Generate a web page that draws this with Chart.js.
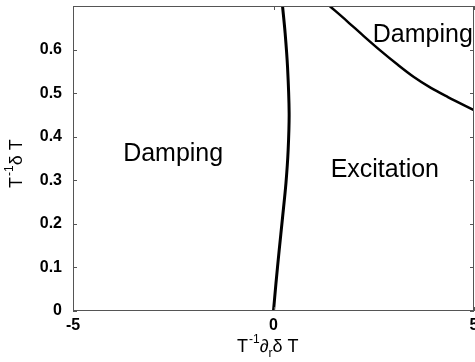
<!DOCTYPE html>
<html>
<head>
<meta charset="utf-8">
<script src="https://cdn.jsdelivr.net/npm/chart.js@4"></script>
<style>
  html, body { margin: 0; padding: 0; background: #fff; }
  #wrap { width: 475px; height: 362px; }
</style>
</head>
<body>
<div id="wrap"><canvas id="stabilityChart"></canvas></div>
<script>
// Left boundary (damping / excitation)
const leftX = [0.0, 0.06, 0.14, 0.225, 0.31, 0.365, 0.39, 0.35, 0.29, 0.225];
const leftY = [0.0, 0.062, 0.138, 0.214, 0.293, 0.369, 0.454, 0.56, 0.638, 0.70];

// Upper right boundary
const rightX = [1.40, 1.825, 2.25, 2.675, 3.1, 3.5, 3.925, 4.35, 5.0];
const rightY = [0.700, 0.666, 0.631, 0.597, 0.565, 0.537, 0.512, 0.491, 0.461];

const xTicks = [-5, 0, 5];
const yTicks = [0, 0.1, 0.2, 0.3, 0.4, 0.5, 0.6];

// Region labels: text, x, y (baseline, data units)
const regionText = ['Damping', 'Excitation', 'Damping'];
const regionX = [-3.75, 1.425, 2.475];
const regionY = [0.344, 0.3075, 0.617];

const toPoints = (xs, ys) => xs.map((x, i) => ({ x: x, y: ys[i] }));

const FONT = '"Liberation Sans", Arial, Helvetica, sans-serif';

// draws "T^-1" then the rest; used for both axis titles
function drawTitle(ctx, x, y, sub) {
    ctx.font = '18px ' + FONT;
    ctx.fillText('T', x, y); x += ctx.measureText('T').width;
    ctx.font = '12px ' + FONT;
    ctx.fillText('-1', x + 1, y - 9); x += ctx.measureText('-1').width + 1;
    ctx.font = '18px ' + FONT;
    if (sub) {
        ctx.fillText('\u2202', x, y); x += ctx.measureText('\u2202').width;
        ctx.font = '12px ' + FONT;
        ctx.fillText('r', x, y + 5); x += ctx.measureText('r').width;
        ctx.font = '18px ' + FONT;
    }
    ctx.fillText('\u03b4 T', x, y);
}

// --- frame, inward ticks, region labels and axis titles ---
const framePlugin = {
    id: 'frame',
    afterDraw(chart) {
        const ctx = chart.ctx;
        const a = chart.chartArea;
        const xs = chart.scales.x;
        const ys = chart.scales.y;
        ctx.save();
        ctx.strokeStyle = '#555';
        ctx.lineWidth = 1;
        ctx.strokeRect(a.left + 0.5, a.top + 0.5, a.right - a.left - 1, a.bottom - a.top - 1);

        // tick marks pointing inwards on all four sides
        ctx.beginPath();
        xTicks.forEach(v => {
            const px = Math.round(xs.getPixelForValue(v)) + 0.5;
            ctx.moveTo(px, a.bottom); ctx.lineTo(px, a.bottom - 4);
            ctx.moveTo(px, a.top); ctx.lineTo(px, a.top + 4);
        });
        yTicks.forEach(v => {
            const py = Math.round(ys.getPixelForValue(v)) + 0.5;
            ctx.moveTo(a.left, py); ctx.lineTo(a.left + 4, py);
            ctx.moveTo(a.right, py); ctx.lineTo(a.right - 4, py);
        });
        ctx.stroke();

        // region labels
        ctx.fillStyle = '#000';
        ctx.font = '25px ' + FONT;
        ctx.textBaseline = 'alphabetic';
        ctx.textAlign = 'left';
        regionText.forEach((t, i) => {
            ctx.fillText(t, xs.getPixelForValue(regionX[i]), ys.getPixelForValue(regionY[i]));
        });

        // x axis title
        drawTitle(ctx, 237, 352, true);

        // y axis title, rotated
        ctx.translate(22, 188);
        ctx.rotate(-Math.PI / 2);
        drawTitle(ctx, 0, 0, false);
        ctx.restore();
    }
};

const ctx = document.getElementById('stabilityChart').getContext('2d');
new Chart(ctx, {
    type: 'scatter',
    data: {
        datasets: [
            {
                label: 'left',
                data: toPoints(leftX, leftY),
                showLine: true,
                borderColor: '#000',
                borderWidth: 3,
                pointRadius: 0,
                tension: 0.3
            },
            {
                label: 'right',
                data: toPoints(rightX, rightY),
                showLine: true,
                borderColor: '#000',
                borderWidth: 2.5,
                pointRadius: 0,
                cubicInterpolationMode: 'monotone'
            }
        ]
    },
    options: {
        responsive: true,
        maintainAspectRatio: false,
        animation: false,
        layout: { padding: { top: 6, right: 1, left: 0, bottom: 0 } },
        plugins: {
            legend: { display: false },
            tooltip: { enabled: false }
        },
        scales: {
            x: {
                type: 'linear',
                min: -5,
                max: 5,
                grid: { display: false },
                border: { display: false },
                afterBuildTicks: s => { s.ticks = xTicks.map(v => ({ value: v })); },
                ticks: {
                    color: '#000',
                    padding: -3,
                    maxRotation: 0,
                    font: { family: FONT, size: 16, weight: 'bold' }
                },
                afterFit: s => { s.height = 51; s.paddingLeft = 0; s.paddingRight = 0; }
            },
            y: {
                type: 'linear',
                min: 0,
                max: 0.7,
                grid: { display: false },
                border: { display: false },
                afterBuildTicks: s => { s.ticks = yTicks.map(v => ({ value: v })); },
                ticks: {
                    color: '#000',
                    padding: 3,
                    font: { family: FONT, size: 16, weight: 'bold' },
                    callback: v => String(Math.round(v * 10) / 10)
                },
                afterFit: s => { s.width = 73; s.paddingTop = 0; s.paddingBottom = 0; }
            }
        }
    },
    plugins: [framePlugin]
});
</script>
</body>
</html>
